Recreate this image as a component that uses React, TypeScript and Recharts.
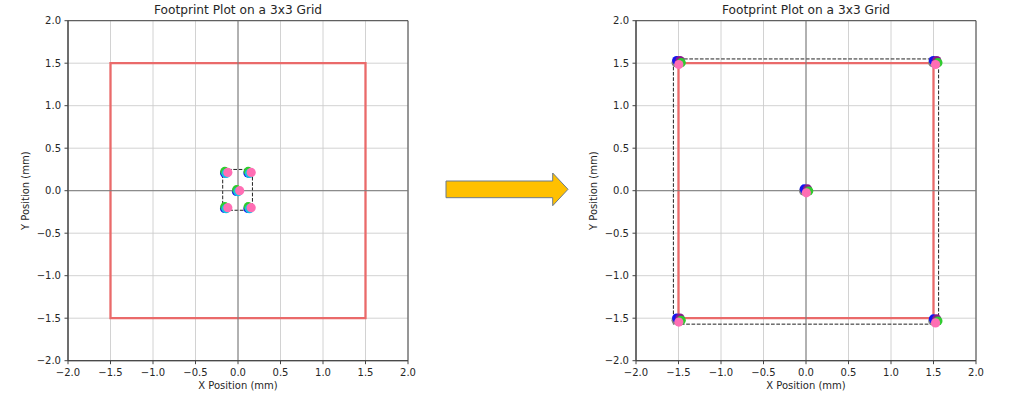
import React from 'react';
import { ScatterChart, Scatter, XAxis, YAxis, CartesianGrid, ReferenceLine, ReferenceArea } from 'recharts';

// ---- data ----
const axisTicks = [-2, -1.5, -1, -0.5, 0, 0.5, 1, 1.5, 2];
const axisDomain: [number, number] = [-2, 2];
const titleText = 'Footprint Plot on a 3x3 Grid';
const xLabelText = 'X Position (mm)';
const yLabelText = 'Y Position (mm)';

// target square [x1, x2, y1, y2]
const targetSquare = [-1.5, 1.5, -1.5, 1.5];
// dashed bounding boxes [x1, x2, y1, y2]
const leftBounds = [-0.18, 0.17, -0.23, 0.25];
const rightBounds = [-1.56, 1.56, -1.57, 1.55];

// left panel point sets
const leftBlue = [
  { x: -0.158, y: 0.207 }, { x: 0.117, y: 0.207 }, { x: -0.018, y: -0.008 }, { x: -0.158, y: -0.208 }, { x: 0.117, y: -0.208 },
];
const leftGreen = [
  { x: -0.155, y: 0.227 }, { x: 0.12, y: 0.227 }, { x: -0.015, y: 0.012 }, { x: -0.155, y: -0.188 }, { x: 0.12, y: -0.188 },
];
const leftCyan = [
  { x: -0.14, y: 0.203 }, { x: 0.135, y: 0.203 }, { x: 0.0, y: -0.012 }, { x: -0.14, y: -0.212 }, { x: 0.135, y: -0.212 },
];
const leftPink = [
  { x: -0.12, y: 0.215 }, { x: 0.155, y: 0.215 }, { x: 0.02, y: 0.0 }, { x: -0.12, y: -0.2 }, { x: 0.155, y: -0.2 },
];

// right panel point sets
const rightGray = [
  { x: -1.528, y: 1.506 }, { x: 1.492, y: 1.506 }, { x: -0.028, y: -0.004 }, { x: -1.528, y: -1.524 }, { x: 1.492, y: -1.534 },
];
const rightBlue = [
  { x: -1.521, y: 1.531 }, { x: 1.499, y: 1.531 }, { x: -0.021, y: 0.021 }, { x: -1.521, y: -1.499 }, { x: 1.499, y: -1.509 },
];
const rightPurple = [
  { x: -1.482, y: 1.531 }, { x: 1.538, y: 1.531 }, { x: 0.018, y: 0.021 }, { x: -1.482, y: -1.499 }, { x: 1.538, y: -1.509 },
];
const rightGreen = [
  { x: -1.468, y: 1.506 }, { x: 1.552, y: 1.506 }, { x: 0.032, y: -0.004 }, { x: -1.468, y: -1.524 }, { x: 1.552, y: -1.534 },
];
const rightPink = [
  { x: -1.496, y: 1.485 }, { x: 1.524, y: 1.485 }, { x: 0.004, y: -0.025 }, { x: -1.496, y: -1.545 }, { x: 1.524, y: -1.555 },
];

const leftSeries = [
  { name: 'blue', color: '#1414f0', data: leftBlue },
  { name: 'green', color: '#2ecc2e', data: leftGreen },
  { name: 'cyan', color: '#12c4e4', data: leftCyan },
  { name: 'pink', color: '#ff6eb4', data: leftPink },
];
const rightSeries = [
  { name: 'gray', color: '#808080', data: rightGray },
  { name: 'blue', color: '#1414f0', data: rightBlue },
  { name: 'purple', color: '#8a1a8a', data: rightPurple },
  { name: 'green', color: '#2ecc2e', data: rightGreen },
  { name: 'pink', color: '#ff6eb4', data: rightPink },
];

const FONT = 'DejaVu Sans, sans-serif';
const TEXT = '#262626';
const fmt = (v: number) => v.toFixed(1).replace('-', '\u2212');

type Series = { name: string; color: string; data: { x: number; y: number }[] };

function Panel({ series, bounds }: { series: Series[]; bounds: number[] }) {
  return (
    <ScatterChart
      width={420}
      height={396}
      margin={{ top: 20.7, right: 12, bottom: 0.3, left: 0 }}
    >
      <CartesianGrid stroke="#cdcdcd" strokeWidth={0.9} />
      <XAxis
        type="number"
        dataKey="x"
        domain={axisDomain}
        ticks={axisTicks}
        allowDataOverflow
        height={35}
        tickSize={3.5}
        tickMargin={4.5}
        tickFormatter={fmt}
        tick={{ fontSize: 10, fill: TEXT, fontFamily: FONT }}
        tickLine={{ stroke: '#444' }}
        axisLine={{ stroke: '#444' }}
        label={{ value: xLabelText, position: 'insideBottom', offset: 7, fontSize: 10, fill: TEXT, fontFamily: FONT }}
      />
      <YAxis
        type="number"
        dataKey="y"
        domain={axisDomain}
        ticks={axisTicks}
        allowDataOverflow
        width={68}
        tickSize={3.5}
        tickMargin={3.5}
        tickFormatter={fmt}
        tick={{ fontSize: 10, fill: TEXT, fontFamily: FONT }}
        tickLine={{ stroke: '#444' }}
        axisLine={{ stroke: '#444' }}
        label={{
          content: () => (
            <text
              x={29.5}
              y={190.7}
              transform="rotate(-90, 29.5, 190.7)"
              textAnchor="middle"
              fontSize={10}
              fill={TEXT}
              fontFamily={FONT}
            >
              {yLabelText}
            </text>
          ),
        }}
      />
      <ReferenceArea x1={axisDomain[0]} x2={axisDomain[1]} y1={axisDomain[0]} y2={axisDomain[1]} fill="none" stroke="#444" strokeWidth={1} />
      <ReferenceLine x={0} stroke="#7a7a7a" strokeWidth={1} />
      <ReferenceLine y={0} stroke="#7a7a7a" strokeWidth={1} />
      <ReferenceArea
        x1={targetSquare[0]}
        x2={targetSquare[1]}
        y1={targetSquare[2]}
        y2={targetSquare[3]}
        fill="none"
        fillOpacity={0}
        stroke="#ea6a6a"
        strokeWidth={2.3}
      />
      <ReferenceArea
        x1={bounds[0]}
        x2={bounds[1]}
        y1={bounds[2]}
        y2={bounds[3]}
        fill="none"
        fillOpacity={0}
        stroke="#222"
        strokeWidth={1}
        strokeDasharray="3.7 1.6"
      />
      {series.map((s) => (
        <Scatter
          key={s.name}
          name={s.name}
          data={s.data}
          isAnimationActive={false}
          shape={(p: any) => <circle cx={p.cx} cy={p.cy} r={4.6} fill={s.color} />}
        />
      ))}
    </ScatterChart>
  );
}

export default function App() {
  return (
    <div
      style={{
        position: 'fixed',
        left: 0,
        top: 0,
        width: 1024,
        height: 396,
        background: '#fff',
        fontFamily: FONT,
        overflow: 'hidden',
      }}
    >
      <div style={{ position: 'absolute', left: 0, top: 0 }}>
        <Panel series={leftSeries} bounds={leftBounds} />
      </div>
      <div style={{ position: 'absolute', left: 568, top: 0 }}>
        <Panel series={rightSeries} bounds={rightBounds} />
      </div>
      <svg
        width={1024}
        height={396}
        style={{ position: 'absolute', left: 0, top: 0, pointerEvents: 'none' }}
      >
        <text x={238} y={13.5} textAnchor="middle" fontSize={12.2} fill={TEXT} fontFamily={FONT}>
          {titleText}
        </text>
        <text x={806} y={13.5} textAnchor="middle" fontSize={12.2} fill={TEXT} fontFamily={FONT}>
          {titleText}
        </text>
        <polygon
          points="446,181 552.7,181 552.7,173 568,189.3 552.7,205.7 552.7,197.7 446,197.7"
          fill="#FFC000"
          stroke="#6d7b8a"
          strokeWidth={1}
        />
      </svg>
    </div>
  );
}
